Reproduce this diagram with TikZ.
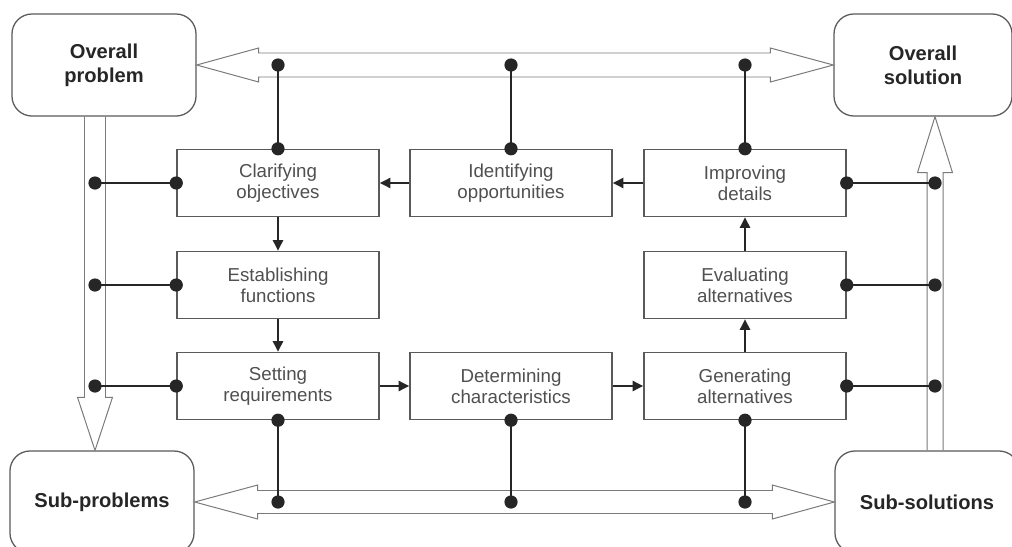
\documentclass[tikz,border=0pt]{standalone}
\usepackage{fontspec}
\setmainfont{Liberation Sans}
\usetikzlibrary{shapes,arrows,arrows.meta,positioning,calc}
\definecolor{boxgray}{HTML}{5A5A5A}
\definecolor{textgray}{HTML}{505050}
\definecolor{railgray}{HTML}{7A7A7A}
\def\colleft{278}
\def\colmid{511}
\def\colright{745}
\def\rowtop{183}
\def\rowmid{285}
\def\rowlow{386}

\begin{document}
\begin{tikzpicture}[x=0.025cm,y=-0.025cm,
    goal/.style={draw=boxgray, line width=0.9pt, rounded corners=0.5cm,
      minimum width=4.6cm, minimum height=2.55cm, align=center,
      text=black!85, font=\bfseries\fontsize{14.3}{17}\selectfont},
    stage/.style={draw=boxgray, line width=1pt, minimum width=5.05cm,
      minimum height=1.675cm, align=center, text=textgray,
      font=\fontsize{13.3}{15}\selectfont},
    hollow/.style={draw=railgray, line width=0.7pt, line join=miter},
    link/.style={draw=black!85, line width=1.7pt},
    flow/.style={link, -{Triangle[length=7.5pt,width=7pt]}},
    joint/.style={circle, fill=black!85, inner sep=0pt, minimum size=0.33cm}]
  \useasboundingbox (0,0) rectangle (1012,546);
  \clip (0,0) rectangle (1012,546);
  \fill[white] (0,0) rectangle (1012,546);

  % problem and solution boxes
  \node[goal] (prob) at (104,65) {Overall\\problem};
  \node[goal,minimum width=4.45cm] (sol) at (923,65) {Overall\\solution};
  \node[goal] (subp) at (102,502) {Sub-problems};
  \node[goal] (subs) at (927,502) {Sub-solutions};

  % design stages
  \node[stage] (clar) at (\colleft,\rowtop) {Clarifying\\objectives};
  \node[stage] (ident) at (\colmid,\rowtop) {Identifying\\opportunities};
  \node[stage] (impr) at (\colright,\rowtop) {Improving\\details};
  \node[stage] (estab) at (\colleft,\rowmid) {Establishing\\functions};
  \node[stage] (evalu) at (\colright,\rowmid) {Evaluating\\alternatives};
  \node[stage] (sett) at (\colleft,\rowlow) {Setting\\requirements};
  \node[stage] (deter) at (\colmid,\rowlow) {Determining\\characteristics};
  \node[stage] (gener) at (\colright,\rowlow) {Generating\\alternatives};

  \coordinate (leftrail) at (95,0);
  \coordinate (rightrail) at (935,0);

  % broad arrows
  \draw[hollow] (prob.east) -- ++(62,-17) -- ++(0,5)
    -- ($ (sol.west) + (-63,-12) $) -- ++(0,-5) -- (sol.west)
    -- ++(-63,17) -- ++(0,-5) -- ($ (prob.east) + (62,12) $) -- ++(0,5) -- cycle;
  \draw[hollow] (subp.east) -- ++(63,-17) -- ++(0,5.5)
    -- ($ (subs.west) + (-62,-11.5) $) -- ++(0,-5.5) -- (subs.west)
    -- ++(-62,17) -- ++(0,-5.5) -- ($ (subp.east) + (63,11.5) $) -- ++(0,5.5) -- cycle;

  \coordinate (lefttop) at (prob.south -| leftrail);
  \coordinate (lefttip) at (subp.north -| leftrail);
  \draw[hollow] ($ (lefttop) + (-10.5,0) $) -- ($ (lefttip) + (-10.5,-53) $)
    -- ++(-7,0) -- (lefttip) -- ++(17.5,-53) -- ++(-7,0)
    -- ($ (lefttop) + (10.5,0) $);

  \coordinate (righttip) at (sol.south -| rightrail);
  \coordinate (rightfoot) at (subs.north -| rightrail);
  \draw[hollow] ($ (rightfoot) + (-8,0) $) -- ($ (righttip) + (-8,56) $)
    -- ++(-9.5,0) -- (righttip) -- ++(17.5,56) -- ++(-9.5,0)
    -- ($ (rightfoot) + (8,0) $);

  % sequence of stages
  \draw[flow] (ident) -- (clar);
  \draw[flow] (impr) -- (ident);
  \draw[flow] (clar) -- (estab);
  \draw[flow] (estab) -- (sett);
  \draw[flow] (sett) -- (deter);
  \draw[flow] (deter) -- (gener);
  \draw[flow] (gener) -- (evalu);
  \draw[flow] (evalu) -- (impr);

  % taps onto the broad arrows
  \coordinate (topL) at (clar.north |- prob.east);
  \coordinate (topM) at (ident.north |- prob.east);
  \coordinate (topR) at (impr.north |- prob.east);
  \coordinate (lowL) at (sett.south |- subp.east);
  \coordinate (lowM) at (deter.south |- subp.east);
  \coordinate (lowR) at (gener.south |- subp.east);

  \draw[link] (clar.north) node[joint] {} -- (topL) node[joint] {};
  \draw[link] (ident.north) node[joint] {} -- (topM) node[joint] {};
  \draw[link] (impr.north) node[joint] {} -- (topR) node[joint] {};
  \draw[link] (sett.south) node[joint] {} -- (lowL) node[joint] {};
  \draw[link] (deter.south) node[joint] {} -- (lowM) node[joint] {};
  \draw[link] (gener.south) node[joint] {} -- (lowR) node[joint] {};
  \draw[link] (clar.west) node[joint] {} -- (clar.west -| leftrail) node[joint] {};
  \draw[link] (estab.west) node[joint] {} -- (estab.west -| leftrail) node[joint] {};
  \draw[link] (sett.west) node[joint] {} -- (sett.west -| leftrail) node[joint] {};
  \draw[link] (impr.east) node[joint] {} -- (impr.east -| rightrail) node[joint] {};
  \draw[link] (evalu.east) node[joint] {} -- (evalu.east -| rightrail) node[joint] {};
  \draw[link] (gener.east) node[joint] {} -- (gener.east -| rightrail) node[joint] {};
\end{tikzpicture}
\end{document}
